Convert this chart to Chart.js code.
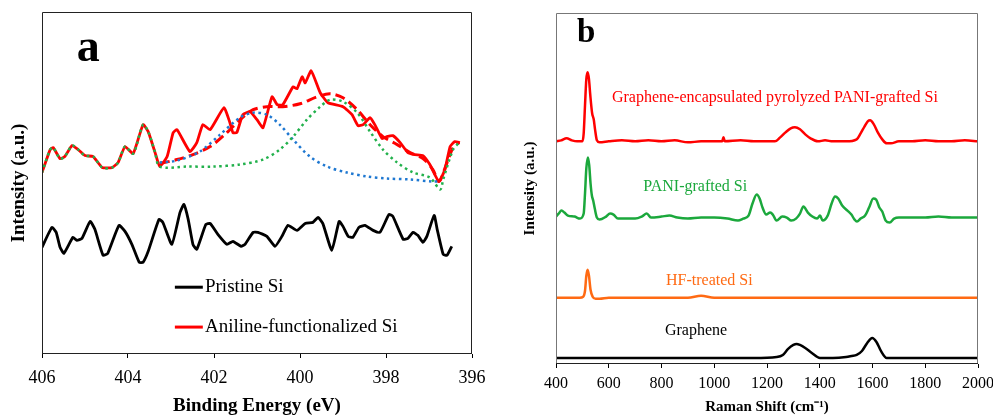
<!DOCTYPE html>
<html lang="en">
<head>
    <meta charset="UTF-8">
    <title>XPS and Raman spectra</title>
    <style>
        body {
            margin: 0;
            background-color: #ffffff;
            width: 993px;
            height: 416px;
            overflow: hidden;
            position: relative;
        }
        canvas {
            position: absolute;
            top: 0;
        }
        #xpsChart { left: 0; }
        #ramanChart { left: 490px; }
    </style>
</head>
<body>
    <canvas id="xpsChart" width="490" height="416"></canvas>
    <canvas id="ramanChart" width="503" height="416"></canvas>

    <script src="https://cdn.jsdelivr.net/npm/chart.js"></script>
    <script>
        // ---- panel a: N 1s XPS (binding energy in eV, intensity in a.u.) ----
        const xpsTicks = [406, 404, 402, 400, 398, 396];

        const anilineEnergy = [406.00, 405.81, 405.74, 405.58, 405.47, 405.30, 405.16, 405.00, 404.81, 404.60,
            404.37, 404.23, 404.07, 403.88, 403.65, 403.53, 403.37, 403.26, 403.09, 402.95,
            402.86, 402.56, 402.40, 402.26, 402.09, 401.77, 401.63, 401.56, 401.47, 401.33,
            401.16, 401.00, 400.86, 400.65, 400.53, 400.40, 400.16, 400.07, 399.95, 399.88,
            399.74, 399.53, 399.35, 399.00, 398.79, 398.65, 398.53, 398.37, 398.26, 398.09,
            397.98, 397.84, 397.67, 397.49, 397.33, 397.14, 396.98, 396.77, 396.63, 396.51,
            396.40, 396.28];
        const anilineIntensity = [182, 205, 207, 196, 198, 209, 205, 199, 198, 187,
            187, 192, 208, 201, 230, 223, 202, 188, 198, 222,
            225, 203, 212, 230, 225, 247, 232, 222, 222, 240,
            243, 235, 227, 258, 250, 250, 268, 266, 278, 272,
            284, 262, 252, 248, 240, 229, 230, 237, 230, 216,
            218, 219, 212, 202, 200, 199, 190, 173, 185, 208,
            213, 212];

        const pristineEnergy = [406.00, 405.77, 405.67, 405.58, 405.49, 405.28, 405.19, 405.07, 404.88, 404.77,
            404.58, 404.47, 404.21, 404.07, 403.91, 403.74, 403.65, 403.53, 403.28, 403.19,
            402.98, 402.79, 402.70, 402.60, 402.49, 402.40, 402.19, 402.09, 401.91, 401.70,
            401.56, 401.37, 401.28, 401.09, 400.98, 400.77, 400.58, 400.42, 400.28, 400.07,
            399.88, 399.70, 399.58, 399.47, 399.26, 399.09, 399.00, 398.88, 398.77, 398.63,
            398.49, 398.30, 398.14, 397.93, 397.84, 397.60, 397.49, 397.37, 397.26, 397.14,
            397.05, 396.88, 396.81, 396.67, 396.58, 396.47];
        const pristineIntensity = [107, 127, 122, 107, 101, 117, 114, 116, 133, 125,
            99, 101, 129, 123, 110, 92, 92, 103, 135, 132,
            110, 142, 150, 135, 110, 105, 130, 131, 120, 110,
            113, 108, 110, 122, 122, 118, 108, 118, 129, 124,
            131, 132, 137, 131, 104, 133, 128, 118, 117, 127,
            129, 124, 122, 140, 138, 115, 116, 122, 119, 112,
            118, 139, 125, 100, 99, 108];

        // fitted envelope (red dashed)
        const envelopeEnergy = [403.26, 402.86, 402.49, 402.09, 401.70, 401.40, 401.09, 400.77, 400.40, 400.00,
            399.60, 399.30, 399.00, 398.67, 398.37, 398.07, 397.74, 397.44, 397.14, 396.91,
            396.77, 396.58, 396.44, 396.30];
        const envelopeIntensity = [191, 195, 200, 208, 222, 235, 245, 248, 248, 251,
            258, 261, 257, 245, 230, 218, 210, 202, 196, 185,
            173, 192, 207, 212];

        // component near 401.2 eV (blue dotted)
        const peak1Energy = [403.26, 402.86, 402.33, 401.86, 401.40, 401.09, 400.77, 400.47, 400.16, 399.77,
            399.37, 398.91, 398.44, 397.98, 397.44, 396.91, 396.74];
        const peak1Intensity = [192, 194, 203, 220, 237, 242, 240, 230, 215, 198,
            188, 182, 178, 176, 175, 173, 173];

        // component near 399.3 eV (green dotted)
        const peak2Energy = [403.26, 402.63, 402.02, 401.40, 400.86, 400.47, 400.16, 399.84, 399.53, 399.30,
            399.00, 398.67, 398.37, 398.07, 397.74, 397.37, 396.98, 396.74, 396.67, 396.44,
            396.30];
        const peak2Intensity = [192, 188, 188, 190, 195, 205, 218, 235, 248, 255,
            253, 242, 223, 205, 192, 182, 177, 165, 175, 205,
            212];

        // ---- panel b: Raman spectra (shift in cm-1, offset intensities) ----
        const ramanTicks = [400, 600, 800, 1000, 1200, 1400, 1600, 1800, 2000];

        const encapShift = [400, 420, 440, 460, 480, 500, 505, 510, 515, 520,
            525, 530, 537, 543, 548, 555, 565, 600, 650, 700,
            750, 800, 850, 900, 950, 1000, 1030, 1035, 1040, 1100,
            1150, 1200, 1230, 1250, 1270, 1290, 1306, 1325, 1345, 1365,
            1393, 1420, 1450, 1500, 1540, 1555, 1570, 1582, 1591, 1605,
            1620, 1637, 1654, 1670, 1700, 1750, 1800, 1850, 1900, 1950,
            2000];
        const encapIntensity = [222, 223, 225, 223, 222, 222, 230, 258, 284, 291,
            284, 268, 250, 244, 234, 223, 221, 222, 223, 222,
            223, 222, 223, 221, 222, 222, 222, 226, 222, 223,
            222, 222, 222, 226, 231, 235, 236, 234, 229, 225,
            222, 223, 222, 222, 224, 230, 237, 242, 243, 239,
            231, 224, 220, 220, 222, 222, 223, 222, 222, 223,
            222];

        const paniShift = [400, 410, 421, 432, 445, 470, 491, 505, 510, 515,
            521, 526, 531, 536, 541, 547, 555, 565, 590, 605,
            618, 635, 700, 725, 744, 760, 800, 830, 860, 900,
            950, 1000, 1050, 1090, 1110, 1130, 1145, 1161, 1172, 1183,
            1197, 1212, 1222, 1236, 1258, 1275, 1292, 1310, 1325, 1338,
            1355, 1372, 1390, 1401, 1411, 1430, 1445, 1458, 1470, 1485,
            1505, 1520, 1532, 1541, 1555, 1572, 1587, 1603, 1614, 1626,
            1637, 1650, 1665, 1682, 1700, 1750, 1800, 1850, 1900, 1950,
            2000];
        const paniIntensity = [147, 150, 153, 151, 148, 147, 145, 150, 170, 195,
            206, 198, 180, 168, 163, 155, 146, 144, 147, 150,
            149, 145, 145, 147, 150, 146, 147, 148, 146, 145,
            146, 146, 145, 143, 145, 148, 160, 169, 165, 156,
            149, 151, 149, 143, 147, 146, 143, 145, 150, 157,
            151, 147, 145, 148, 143, 148, 160, 167, 165, 158,
            153, 149, 144, 142, 145, 148, 156, 165, 164, 156,
            152, 143, 141, 145, 146, 146, 146, 147, 146, 146,
            146];

        const hfShift = [400, 450, 490, 503, 510, 515, 520, 525, 531, 539,
            550, 565, 600, 700, 800, 900, 950, 1000, 1100, 1300,
            1500, 1700, 1900, 2000];
        const hfIntensity = [66, 66, 66, 67, 73, 88, 94, 88, 74, 67,
            65, 65, 66, 66, 66, 66, 68, 66, 66, 66,
            66, 66, 66, 66];

        const grapheneShift = [400, 600, 800, 1000, 1150, 1237, 1260, 1280, 1300, 1312,
            1325, 1345, 1370, 1401, 1450, 1500, 1521, 1540, 1560, 1580,
            1599, 1615, 1632, 1654, 1700, 1800, 1900, 2000];
        const grapheneIntensity = [6, 6, 6, 6, 6, 7, 9, 15, 19, 20,
            19, 16, 11, 6, 6, 7, 8, 9, 13, 21,
            26, 22, 13, 6, 6, 6, 6, 6];

        // helpers
        function toPoints(xs, ys) {
            return xs.map((x, i) => ({ x: x, y: ys[i] }));
        }

        const serif = "'Liberation Serif', 'Times New Roman', serif";

        // draws a full box around the plot area
        function framePlugin(sideColor, baseColor) {
            return {
                id: 'frame',
                afterDraw(chart) {
                    const { ctx, chartArea: a } = chart;
                    ctx.save();
                    ctx.lineWidth = 1;
                    ctx.strokeStyle = sideColor;
                    ctx.beginPath();
                    ctx.moveTo(a.left + 0.5, a.bottom);
                    ctx.lineTo(a.left + 0.5, a.top + 0.5);
                    ctx.lineTo(a.right - 0.5, a.top + 0.5);
                    ctx.lineTo(a.right - 0.5, a.bottom);
                    ctx.stroke();
                    ctx.strokeStyle = baseColor;
                    ctx.beginPath();
                    ctx.moveTo(a.left, a.bottom - 0.5);
                    ctx.lineTo(a.right, a.bottom - 0.5);
                    ctx.stroke();
                    ctx.restore();
                }
            };
        }

        function drawText(ctx, text, x, y, font, color) {
            ctx.font = font;
            ctx.fillStyle = color;
            ctx.textAlign = 'left';
            ctx.textBaseline = 'middle';
            ctx.fillText(text, x, y);
        }

        // keep the plot box where it is, labels may overhang
        function fixHeight(h) {
            return axis => {
                axis.height = h;
                axis.paddingLeft = 0;
                axis.paddingRight = 0;
            };
        }

        // ---- panel a ----
        const xpsLabels = {
            id: 'xpsLabels',
            afterDraw(chart) {
                const { ctx, scales: { x, y } } = chart;
                ctx.save();
                ctx.font = 'bold 46px ' + serif;
                ctx.fillStyle = '#000';
                ctx.textBaseline = 'alphabetic';
                ctx.fillText('a', x.getPixelForValue(405.19), y.getPixelForValue(294));

                // legend inside the plot
                const legend = [
                    ['Pristine Si', '#000000', 67],
                    ['Aniline-functionalized Si', '#ff0000', 27]
                ];
                legend.forEach(([label, color, val]) => {
                    const py = y.getPixelForValue(val);
                    ctx.strokeStyle = color;
                    ctx.lineWidth = 3;
                    ctx.beginPath();
                    ctx.moveTo(x.getPixelForValue(402.91), py);
                    ctx.lineTo(x.getPixelForValue(402.26), py);
                    ctx.stroke();
                    drawText(ctx, label, x.getPixelForValue(402.21), py, '19px ' + serif, '#000');
                });
                ctx.restore();
            }
        };

        const leftPart = anilineEnergy.map((e, i) => ({ x: e, y: anilineIntensity[i] })).filter(p => p.x >= 403.26);
        const greenDotted = leftPart.concat(toPoints(peak2Energy, peak2Intensity).slice(1));

        new Chart(document.getElementById('xpsChart').getContext('2d'), {
            type: 'line',
            data: {
                datasets: [
                    { label: 'Peak 2', data: greenDotted, borderColor: '#22b14c', borderWidth: 2.5, borderDash: [2.5, 3.5], tension: 0.3 },
                    { label: 'Peak 1', data: toPoints(peak1Energy, peak1Intensity), borderColor: '#1f78d1', borderWidth: 2.5, borderDash: [2.5, 3.5], tension: 0.3 },
                    { label: 'Fit', data: toPoints(envelopeEnergy, envelopeIntensity), borderColor: '#ff0000', borderWidth: 3, borderDash: [10, 5], tension: 0.3 },
                    { label: 'Aniline-functionalized Si', data: toPoints(anilineEnergy, anilineIntensity), borderColor: '#ff0000', borderWidth: 2.8, tension: 0.15 },
                    { label: 'Pristine Si', data: toPoints(pristineEnergy, pristineIntensity), borderColor: '#000000', borderWidth: 2.8, tension: 0.15 }
                ]
            },
            options: {
                responsive: false,
                animation: false,
                elements: { point: { radius: 0 } },
                layout: { padding: { left: 0, right: 18, top: 12, bottom: 0 } },
                plugins: { legend: { display: false }, tooltip: { enabled: false } },
                scales: {
                    x: {
                        type: 'linear',
                        reverse: true,
                        min: 396,
                        max: 406,
                        afterBuildTicks: axis => { axis.ticks = xpsTicks.map(v => ({ value: v })); },
                        afterFit: fixHeight(62),
                        ticks: { font: { family: serif, size: 18 }, color: '#000', padding: 9, maxRotation: 0, callback: v => String(v) },
                        grid: { display: true, drawOnChartArea: false, drawTicks: true, tickLength: 4, color: '#000' },
                        border: { display: false },
                        title: {
                            display: true,
                            text: 'Binding Energy (eV)',
                            color: '#000',
                            font: { family: serif, size: 19, weight: 'bold', lineHeight: 1 },
                            padding: { top: 0, bottom: 0 }
                        }
                    },
                    y: {
                        min: 0,
                        max: 343,
                        afterFit: axis => { axis.width = 42; },
                        ticks: { display: false },
                        grid: { display: false },
                        border: { display: false },
                        title: {
                            display: true,
                            text: 'Intensity (a.u.)',
                            color: '#000',
                            font: { family: serif, size: 19, weight: 'bold', lineHeight: 1 },
                            padding: { top: 9.5, bottom: 0 }
                        }
                    }
                }
            },
            plugins: [framePlugin('#222', '#222'), xpsLabels]
        });

        // ---- panel b ----
        const ramanLabels = {
            id: 'ramanLabels',
            afterDraw(chart) {
                const { ctx, scales: { x, y } } = chart;
                ctx.save();
                ctx.font = 'bold 33px ' + serif;
                ctx.fillStyle = '#000';
                ctx.textBaseline = 'alphabetic';
                ctx.fillText('b', x.getPixelForValue(480), y.getPixelForValue(321));
                const f = '16px ' + serif;
                drawText(ctx, 'Graphene-encapsulated pyrolyzed PANI-grafted Si', x.getPixelForValue(612), y.getPixelForValue(265), f, '#ff0000');
                drawText(ctx, 'PANI-grafted Si', x.getPixelForValue(731), y.getPixelForValue(177), f, '#1ba83c');
                drawText(ctx, 'HF-treated Si', x.getPixelForValue(817), y.getPixelForValue(83), f, '#ff6a13');
                drawText(ctx, 'Graphene', x.getPixelForValue(813), y.getPixelForValue(33), f, '#000000');
                ctx.restore();
            }
        };

        new Chart(document.getElementById('ramanChart').getContext('2d'), {
            type: 'line',
            data: {
                datasets: [
                    { label: 'Graphene-encapsulated pyrolyzed PANI-grafted Si', data: toPoints(encapShift, encapIntensity), borderColor: '#ff0000' },
                    { label: 'PANI-grafted Si', data: toPoints(paniShift, paniIntensity), borderColor: '#1ba83c' },
                    { label: 'HF-treated Si', data: toPoints(hfShift, hfIntensity), borderColor: '#ff6a13' },
                    { label: 'Graphene', data: toPoints(grapheneShift, grapheneIntensity), borderColor: '#000000' }
                ]
            },
            options: {
                responsive: false,
                animation: false,
                elements: {
                    point: { radius: 0 },
                    line: { borderWidth: 2.5, cubicInterpolationMode: 'monotone' }
                },
                layout: { padding: { left: 0, right: 15, top: 13, bottom: 0 } },
                plugins: { legend: { display: false }, tooltip: { enabled: false } },
                scales: {
                    x: {
                        type: 'linear',
                        min: 400,
                        max: 2000,
                        afterBuildTicks: axis => { axis.ticks = ramanTicks.map(v => ({ value: v })); },
                        afterFit: fixHeight(52),
                        ticks: { font: { family: serif, size: 16 }, color: '#000', padding: 6, maxRotation: 0, callback: v => String(v) },
                        grid: { display: true, drawOnChartArea: false, drawTicks: true, tickLength: 4, color: '#000' },
                        border: { display: false },
                        title: {
                            display: true,
                            text: 'Raman Shift (cm\u207B\u00B9)',
                            color: '#000',
                            font: { family: serif, size: 15, weight: 'bold', lineHeight: 1 },
                            padding: { top: 0, bottom: 1.5 }
                        }
                    },
                    y: {
                        min: 0,
                        max: 350,
                        afterFit: axis => { axis.width = 66; },
                        ticks: { display: false },
                        grid: { display: false },
                        border: { display: false },
                        title: {
                            display: true,
                            text: 'Intensity (a.u.)',
                            color: '#000',
                            font: { family: serif, size: 15, weight: 'bold', lineHeight: 1 },
                            padding: { top: 32.5, bottom: 0 }
                        }
                    }
                }
            },
            plugins: [framePlugin('#777', '#222'), ramanLabels]
        });
    </script>
</body>
</html>
